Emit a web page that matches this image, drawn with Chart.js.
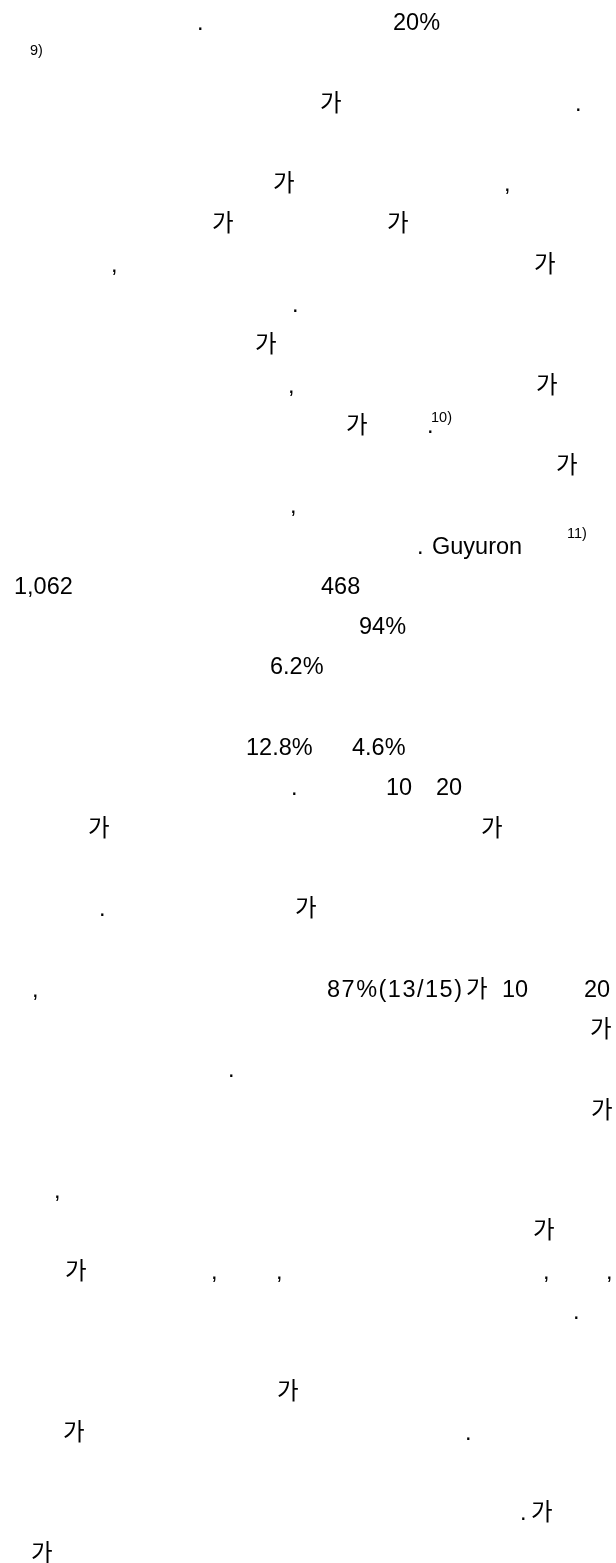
<!DOCTYPE html>
<html lang="ko">
<head>
<meta charset="utf-8">
<title>Text fragments</title>
<script src="https://cdn.jsdelivr.net/npm/chart.js@4.4.1/dist/chart.umd.min.js"></script>
<style>
    html, body { margin: 0; padding: 0; background: #fff; }
    canvas { display: block; }
</style>
</head>
<body>
<canvas id="page" width="616" height="1563"></canvas>
<script>
// Fragmentos de texto (linha do texto, posição horizontal)
const fragText = [
    '.', '20%',
    '가', '.',
    '가', ',',
    '가', '가',
    ',', '가',
    '.',
    '가',
    ',', '가',
    '가', '.',
    '가',
    ',',
    '.', 'Guyuron',
    '1,062', '468',
    '94%',
    '6.2%',
    '12.8%', '4.6%',
    '.', '10', '20',
    '가', '가',
    '.', '가',
    ',', '87%(13/15)', '가', '10', '20',
    '가',
    '.',
    '가',
    ',',
    '가',
    '가', ',', ',', ',', ',',
    '.',
    '가',
    '가', '.',
    '.', '가',
    '가'
];
const fragLine = [
    0, 0,
    2, 2,
    4, 4,
    5, 5,
    6, 6,
    7,
    8,
    9, 9,
    10, 10,
    11,
    12,
    13, 13,
    14, 14,
    15,
    16,
    18, 18,
    19, 19, 19,
    20, 20,
    22, 22,
    24, 24, 24, 24, 24,
    25,
    26,
    27,
    29,
    30,
    31, 31, 31, 31, 31,
    32,
    34,
    35, 35,
    37, 37,
    38
];
const fragCol = [
    197, 393,
    320, 575,
    273, 504,
    212, 387,
    111, 534,
    292,
    255,
    288, 536,
    346, 427,
    556,
    290,
    417, 432,
    14, 321,
    359,
    270,
    246, 352,
    291, 386, 436,
    88, 481,
    99, 295,
    32, 327, 466, 502, 584,
    590,
    228,
    591,
    54,
    533,
    65, 211, 276, 543, 606,
    573,
    277,
    63, 465,
    520, 531,
    31
];

// Notas sobrescritas
const noteText = ['9)', '10)', '11)'];
const noteLine = [0.62, 9.72, 12.6];
const noteCol = [30, 431, 567];

// Escala vertical: linhas do texto
const firstLine = -0.745;
const lastLine = 38.06;

// fragmentos com espaçamento maior no original
const wideText = ['87%(13/15)'];

function toPoints(cols, lines) {
    return cols.map((c, i) => ({ x: c, y: lines[i] }));
}

const textLabels = {
    id: 'textLabels',
    afterDatasetsDraw(chart) {
        const ctx = chart.ctx;
        ctx.save();
        ctx.fillStyle = '#000';
        ctx.textAlign = 'left';
        ctx.textBaseline = 'alphabetic';
        chart.data.datasets.forEach((ds, i) => {
            ctx.font = ds.labelFont;
            chart.getDatasetMeta(i).data.forEach((pt, j) => {
                const txt = ds.labels[j];
                ctx.letterSpacing = wideText.includes(txt) ? '1.5px' : '0px';
                ctx.fillText(txt, pt.x, pt.y);
            });
        });
        ctx.restore();
    }
};

window.onload = function () {
    const ctx = document.getElementById('page').getContext('2d');
    new Chart(ctx, {
        type: 'scatter',
        data: {
            datasets: [{
                label: 'texto',
                data: toPoints(fragCol, fragLine),
                labels: fragText,
                labelFont: '23.5px "Liberation Sans", Arial, "Noto Sans CJK KR"',
                pointRadius: 0
            }, {
                label: 'notas',
                data: toPoints(noteCol, noteLine),
                labels: noteText,
                labelFont: '14.5px "Liberation Sans", Arial, "Noto Sans CJK KR"',
                pointRadius: 0
            }]
        },
        options: {
            responsive: false,
            animation: false,
            layout: { padding: 0 },
            plugins: {
                legend: { display: false },
                tooltip: { enabled: false }
            },
            scales: {
                x: { type: 'linear', display: false, min: 0, max: 616 },
                y: { type: 'linear', display: false, reverse: true, min: firstLine, max: lastLine }
            }
        },
        plugins: [textLabels]
    });
};
</script>
</body>
</html>
